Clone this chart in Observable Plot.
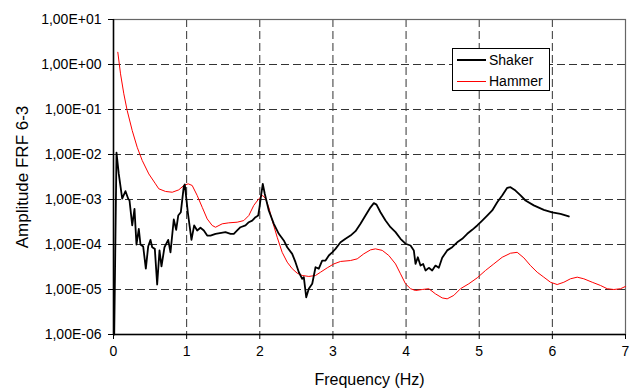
<!DOCTYPE html>
<html>
<head>
<meta charset="utf-8">
<script src="https://cdn.jsdelivr.net/npm/d3@7"></script>
<script src="https://cdn.jsdelivr.net/npm/@observablehq/plot@0.6"></script>
<style>
  html, body { margin: 0; padding: 0; background: #fff; }
  #wrap { position: relative; width: 637px; height: 391px; font-family: "Liberation Sans", Arial, sans-serif; }
  #legend { position: absolute; left: 452px; top: 48px; width: 98px; height: 43px; border: 1px solid #000; background: #fff; font-size: 14px; color: #000; box-sizing: border-box; }
  .item { position: absolute; left: 4px; height: 16px; display: flex; align-items: center; }
  .swatch { width: 29px; margin-right: 3px; }
</style>
</head>
<body>
<div id="wrap"></div>
<script>
const seriesNames = ["Shaker", "Hammer"];
const seriesColors = ["#000000", "#ff0000"];
const xTicks = [0, 1, 2, 3, 4, 5, 6, 7];
const yTicks = [1e1, 1e0, 1e-1, 1e-2, 1e-3, 1e-4, 1e-5, 1e-6];

const shakerFreq = [0.01,0.041,0.072,0.119,0.164,0.201,0.219,0.256,0.287,0.314,0.346,0.369,0.406,0.442,0.474,0.506,0.529,0.565,0.597,0.629,0.656,0.697,0.748,0.779,0.824,0.857,0.885,0.920,0.961,0.975,1.016,1.066,1.103,1.144,1.189,1.235,1.281,1.326,1.395,1.531,1.60,1.645,1.691,1.736,1.805,1.85,1.896,1.942,1.978,1.996,2.014,2.041,2.068,2.123,2.192,2.26,2.328,2.375,2.443,2.488,2.534,2.58,2.602,2.635,2.67,2.717,2.762,2.807,2.853,2.899,2.944,2.99,3.035,3.104,3.172,3.24,3.309,3.377,3.445,3.514,3.559,3.596,3.65,3.719,3.787,3.856,3.924,3.992,4.061,4.106,4.129,4.161,4.197,4.234,4.266,4.311,4.357,4.402,4.448,4.494,4.562,4.631,4.699,4.768,4.836,4.904,4.973,5.041,5.109,5.178,5.246,5.314,5.383,5.428,5.496,5.565,5.633,5.746,5.883,5.998,6.111,6.225];
const shakerAmp = [1e-6,1.1e-2,3.7e-3,1.04e-3,1.53e-3,1.04e-3,9.5e-4,2.65e-4,6.2e-4,1.0e-4,2.23e-4,1.0e-4,9.0e-5,2.9e-5,9.0e-5,1.27e-4,8.7e-5,8.0e-5,1.29e-5,7.4e-5,3.25e-5,8.7e-5,1.27e-4,6.7e-5,3.6e-4,2.12e-4,4.4e-4,5.2e-4,1.95e-3,2.15e-3,5.2e-4,1.27e-4,2.65e-4,2.05e-4,2.35e-4,2.05e-4,1.58e-4,1.58e-4,1.73e-4,1.88e-4,1.73e-4,1.73e-4,2.05e-4,2.42e-4,2.65e-4,3.13e-4,3.4e-4,4.05e-4,4.4e-4,6.7e-4,1.12e-3,2.23e-3,1.34e-3,5.7e-4,2.88e-4,1.73e-4,1.23e-4,8.7e-5,6.2e-5,4.05e-5,2.42e-5,1.73e-5,1.88e-5,6.7e-6,1.04e-5,1.34e-5,3.13e-5,2.9e-5,4.4e-5,4.4e-5,5.7e-5,6.7e-5,8.0e-5,1.12e-4,1.34e-4,1.58e-4,1.98e-4,2.88e-4,4.4e-4,6.7e-4,8.3e-4,7.7e-4,5.2e-4,3.4e-4,2.42e-4,1.88e-4,1.34e-4,1.04e-4,9.5e-5,7.4e-5,3.7e-5,5.2e-5,3.4e-5,3.7e-5,2.65e-5,3.03e-5,2.65e-5,3.4e-5,3.03e-5,5.06e-5,7.4e-5,8.7e-5,1.12e-4,1.34e-4,1.73e-4,2.12e-4,2.65e-4,3.4e-4,4.4e-4,5.7e-4,8.7e-4,1.23e-3,1.82e-3,1.88e-3,1.58e-3,1.23e-3,9.5e-4,7.4e-4,5.9e-4,5.2e-4,4.8e-4,4.2e-4];

const hammerFreq = [0.059,0.096,0.141,0.187,0.256,0.324,0.392,0.483,0.574,0.619,0.711,0.803,0.893,0.961,1.021,1.076,1.144,1.213,1.281,1.349,1.395,1.486,1.576,1.691,1.781,1.85,1.918,1.987,2.041,2.078,2.123,2.17,2.238,2.306,2.375,2.443,2.512,2.58,2.67,2.762,2.83,2.922,3.012,3.104,3.24,3.332,3.422,3.514,3.582,3.674,3.764,3.856,3.924,3.992,4.061,4.129,4.221,4.311,4.402,4.494,4.562,4.653,4.744,4.858,4.973,5.086,5.199,5.314,5.428,5.519,5.61,5.701,5.793,5.883,5.975,6.066,6.157,6.248,6.34,6.43,6.545,6.658,6.75,6.84,6.932,7.0];
const hammerAmp = [1.87,0.62,0.223,9.5e-2,3.4e-2,1.45e-2,7.4e-3,3.7e-3,2.23e-3,1.73e-3,1.51e-3,1.45e-3,1.64e-3,2.05e-3,2.23e-3,2.05e-3,1.23e-3,6.7e-4,3.7e-4,2.65e-4,2.42e-4,2.88e-4,3.03e-4,3.13e-4,3.4e-4,4.4e-4,7.4e-4,1.04e-3,1.23e-3,1.04e-3,6.7e-4,3.4e-4,1.45e-4,6.7e-5,4.05e-5,2.9e-5,2.3e-5,2.05e-5,1.95e-5,2.05e-5,2.42e-5,3.03e-5,3.7e-5,4.2e-5,4.4e-5,4.8e-5,6.2e-5,7.6e-5,8.0e-5,7.4e-5,5.7e-5,3.7e-5,2.23e-5,1.34e-5,1.04e-5,9.5e-6,1.0e-5,1.04e-5,8.0e-6,6.5e-6,6.2e-6,7.4e-6,1.04e-5,1.34e-5,1.82e-5,2.65e-5,3.7e-5,5.2e-5,6.4e-5,6.7e-5,5.06e-5,3.4e-5,2.42e-5,1.88e-5,1.45e-5,1.29e-5,1.45e-5,1.73e-5,1.88e-5,1.73e-5,1.45e-5,1.23e-5,1.04e-5,1.0e-5,1.04e-5,1.17e-5];

const shaker = shakerFreq.map((f, i) => ({f, a: shakerAmp[i]}));
const hammer = hammerFreq.map((f, i) => ({f, a: hammerAmp[i]}));

function sciFmt(d) {
  const e = Math.round(Math.log10(d));
  return "1,00E" + (e < 0 ? "-" : "+") + String(Math.abs(e)).padStart(2, "0");
}

const grid = {stroke: "#333", strokeOpacity: 1, strokeDasharray: "8,4", strokeWidth: 1};

const chart = Plot.plot({
  width: 637,
  height: 391,
  marginLeft: 113,
  marginRight: 12,
  marginTop: 19,
  marginBottom: 57,
  style: {fontFamily: "'Liberation Sans', Arial, sans-serif", fontSize: "14px", color: "#000", background: "#fff"},
  x: {domain: [0, 7]},
  y: {type: "log", domain: [1e-6, 1e1]},
  marks: [
    Plot.gridX(xTicks.slice(1, -1), grid),
    Plot.gridY(yTicks.slice(1, -1), grid),
    Plot.frame({stroke: "#666", strokeWidth: 1.2}),
    Plot.axisX(xTicks, {tickSize: 5, tickPadding: 7, tickFormat: d => String(d), label: "Frequency (Hz)", labelAnchor: "center", labelOffset: 50, fontSize: 14}),
    Plot.axisY(yTicks, {tickSize: 5, tickPadding: 7, tickFormat: sciFmt, label: "Amplitude FRF 6-3", labelAnchor: "center", labelOffset: 98, fontSize: 14}),
    Plot.lineY(hammer, {x: "f", y: "a", stroke: seriesColors[1], strokeWidth: 1}),
    Plot.lineY(shaker, {x: "f", y: "a", stroke: seriesColors[0], strokeWidth: 1.8}),
    Plot.ruleX([0], {stroke: "#000", strokeWidth: 1.5}),
    Plot.ruleY([1e-6], {stroke: "#000", strokeWidth: 1.5})
  ]
});
chart.querySelectorAll("text").forEach(t => {
  const s = t.textContent;
  if (s.includes("Frequency") || s.includes("Amplitude")) {
    t.textContent = s.replace(/\s*[→↑←↓]\s*/g, "").trim();
    t.setAttribute("font-size", s.includes("Amplitude") ? "17" : "16");
  }
});

const wrap = document.getElementById("wrap");
wrap.appendChild(chart);

const legend = document.createElement("div");
legend.id = "legend";
seriesNames.forEach((name, i) => {
  const it = document.createElement("div");
  it.className = "item";
  it.style.top = (3 + i * 21) + "px";
  const sw = document.createElement("div");
  sw.className = "swatch";
  sw.style.borderTop = (i === 0 ? 2 : 1) + "px solid " + seriesColors[i];
  const tx = document.createElement("span");
  tx.textContent = name;
  it.appendChild(sw);
  it.appendChild(tx);
  legend.appendChild(it);
});
wrap.appendChild(legend);
</script>
</body>
</html>
